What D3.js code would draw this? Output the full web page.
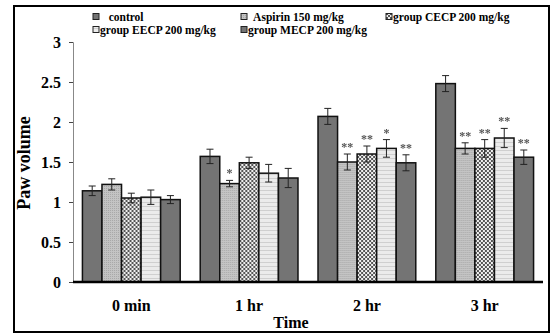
<!DOCTYPE html>
<html>
<head>
<meta charset="utf-8">
<script src="https://cdn.jsdelivr.net/npm/d3@7"></script>
<style>
body { margin: 0; background: #fff; }
text { font-family: "Liberation Serif", "Times New Roman", serif; font-weight: bold; }
</style>
</head>
<body>
<script>
var times = ['0 min', '1 hr', '2 hr', '3 hr'];
var groups = ['control', 'Aspirin 150 mg/kg', 'group CECP 200 mg/kg', 'group EECP 200 mg/kg', 'group MECP 200 mg/kg'];
var legendNames = ['   control', '  Aspirin 150 mg/kg', 'group CECP 200 mg/kg', 'group EECP 200 mg/kg', 'group MECP 200 mg/kg'];

// mean paw volume per group, one entry per time point
var control = [1.14, 1.57, 2.07, 2.48];
var aspirin = [1.22, 1.23, 1.50, 1.67];
var cecp    = [1.05, 1.49, 1.60, 1.67];
var eecp    = [1.06, 1.36, 1.67, 1.80];
var mecp    = [1.03, 1.30, 1.49, 1.56];
// standard errors
var controlErr = [0.06, 0.09, 0.10, 0.10];
var aspirinErr = [0.07, 0.04, 0.10, 0.07];
var cecpErr    = [0.06, 0.07, 0.10, 0.11];
var eecpErr    = [0.09, 0.11, 0.11, 0.12];
var mecpErr    = [0.05, 0.12, 0.10, 0.09];
// significance marks
var controlSig = ['', '', '', ''];
var aspirinSig = ['', '*', '**', '**'];
var cecpSig    = ['', '', '**', '**'];
var eecpSig    = ['', '', '*', '**'];
var mecpSig    = ['', '', '**', '**'];
var yTicks = [0, 0.5, 1, 1.5, 2, 2.5, 3];

var means = [control, aspirin, cecp, eecp, mecp];
var errs = [controlErr, aspirinErr, cecpErr, eecpErr, mecpErr];
var sigs = [controlSig, aspirinSig, cecpSig, eecpSig, mecpSig];

var W = 552, H = 336;
var svg = d3.select('body').append('svg')
   .attr('width', W)
   .attr('height', H);

var defs = svg.append('defs');
// aspirin: fine light dots
var p1 = defs.append('pattern').attr('id', 'pat-asp')
   .attr('patternUnits', 'userSpaceOnUse').attr('width', 2).attr('height', 2);
p1.append('rect').attr('width', 2).attr('height', 2).attr('fill', '#c4c4c4');
p1.append('rect').attr('width', 1).attr('height', 1).attr('fill', '#a8a8a8');
// CECP: checker
var p2 = defs.append('pattern').attr('id', 'pat-cecp')
   .attr('patternUnits', 'userSpaceOnUse').attr('width', 4).attr('height', 4);
p2.append('rect').attr('width', 4).attr('height', 4).attr('fill', '#f0f0f0');
p2.append('rect').attr('width', 2).attr('height', 2).attr('fill', '#555');
p2.append('rect').attr('x', 2).attr('y', 2).attr('width', 2).attr('height', 2).attr('fill', '#555');
// EECP: light horizontal stripes
var p3 = defs.append('pattern').attr('id', 'pat-eecp')
   .attr('patternUnits', 'userSpaceOnUse').attr('width', 4).attr('height', 4);
p3.append('rect').attr('width', 4).attr('height', 4).attr('fill', '#ebebeb');
p3.append('rect').attr('y', 2).attr('width', 4).attr('height', 1).attr('fill', '#cfcfcf');
// grey filter so the stars do not get coloured fringes
defs.append('filter').attr('id', 'grey')
   .append('feColorMatrix').attr('type', 'saturate').attr('values', 0);

var fills = ['#747474', 'url(#pat-asp)', 'url(#pat-cecp)', 'url(#pat-eecp)', '#747474'];

// frame
svg.append('rect')
   .attr('x', 14).attr('y', 6)
   .attr('width', 535).attr('height', 326)
   .attr('fill', 'none')
   .attr('stroke', '#000')
   .attr('stroke-width', 2);

var x0 = d3.scaleBand().domain(times).range([73, 543]).paddingInner(0.17).paddingOuter(0.08);
var x1 = d3.scaleBand().domain(d3.range(groups.length)).range([0, x0.bandwidth()]);
var y = d3.scaleLinear().domain([0, 3]).range([282, 42]);

// y axis
var yAxis = svg.append('g')
   .attr('transform', 'translate(73,0)')
   .call(d3.axisLeft(y).tickValues(yTicks).tickSize(4).tickPadding(8).tickFormat(d3.format('')));
yAxis.select('.domain').attr('stroke', '#888').attr('stroke-width', 1);
yAxis.selectAll('.tick line').attr('stroke', '#444');
yAxis.selectAll('text').attr('font-size', 16).attr('fill', '#000')
   .style('font-family', '"Liberation Serif", serif').style('font-weight', 'bold');

var rows = [];
times.forEach(function(t, i) {
   groups.forEach(function(g, j) {
      rows.push({t: t, j: j, v: means[j][i], e: errs[j][i], s: sigs[j][i]});
   });
});

var bars = svg.selectAll('g.bar').data(rows).enter().append('g')
   .attr('class', 'bar')
   .attr('transform', function(d) { return 'translate(' + (x0(d.t) + x1(d.j)) + ',0)'; });
bars.append('rect')
   .attr('y', function(d) { return y(d.v); })
   .attr('width', x1.bandwidth())
   .attr('height', function(d) { return y(0) - y(d.v); })
   .attr('fill', function(d) { return fills[d.j]; })
   .attr('stroke', '#111')
   .attr('stroke-width', 1.5);

var cx = x1.bandwidth() / 2;
bars.append('path')
   .attr('d', function(d) {
      var a = y(d.v + d.e), b = y(d.v - d.e);
      return 'M' + cx + ',' + a + 'V' + b +
         'M' + (cx - 3.5) + ',' + a + 'H' + (cx + 3.5) +
         'M' + (cx - 3.5) + ',' + b + 'H' + (cx + 3.5);
   })
   .attr('stroke', '#222')
   .attr('stroke-width', 1)
   .attr('fill', 'none');
bars.append('text')
   .attr('x', cx)
   .attr('y', function(d) { return y(d.v + d.e) - 3; })
   .attr('text-anchor', 'middle')
   .attr('font-size', 12)
   .attr('fill', '#555')
   .attr('filter', 'url(#grey)')
   .text(function(d) { return d.s; });

// x axis line
svg.append('line')
   .attr('x1', 73).attr('x2', 543)
   .attr('y1', y(0)).attr('y2', y(0))
   .attr('stroke', '#000')
   .attr('stroke-width', 2.5);

svg.selectAll('text.xlab').data(times).enter().append('text')
   .attr('class', 'xlab')
   .attr('x', function(d) { return x0(d) + x0.bandwidth() / 2; })
   .attr('y', 311)
   .attr('text-anchor', 'middle')
   .attr('font-size', 16)
   .text(function(d) { return d; });

svg.append('text')
   .attr('x', 291).attr('y', 328)
   .attr('text-anchor', 'middle')
   .attr('font-size', 16)
   .text('Time');

svg.append('text')
   .attr('transform', 'translate(30,163) rotate(-90)')
   .attr('text-anchor', 'middle')
   .attr('font-size', 18)
   .text('Paw volume');

// legend, three per row
var colX = [93, 241, 386];
var leg = svg.selectAll('g.leg').data(legendNames).enter().append('g')
   .attr('class', 'leg')
   .attr('transform', function(d, i) {
      return 'translate(' + colX[i % 3] + ',' + (17 + Math.floor(i / 3) * 13) + ')';
   });
leg.append('rect')
   .attr('x', 0).attr('y', -3.5)
   .attr('width', 6).attr('height', 6)
   .attr('fill', function(d, i) { return fills[i]; })
   .attr('stroke', '#222')
   .attr('stroke-width', 1);
leg.append('text')
   .attr('x', 7).attr('y', 4)
   .attr('font-size', 11.5)
   .style('white-space', 'pre')
   .text(function(d) { return d; });
</script>
</body>
</html>
